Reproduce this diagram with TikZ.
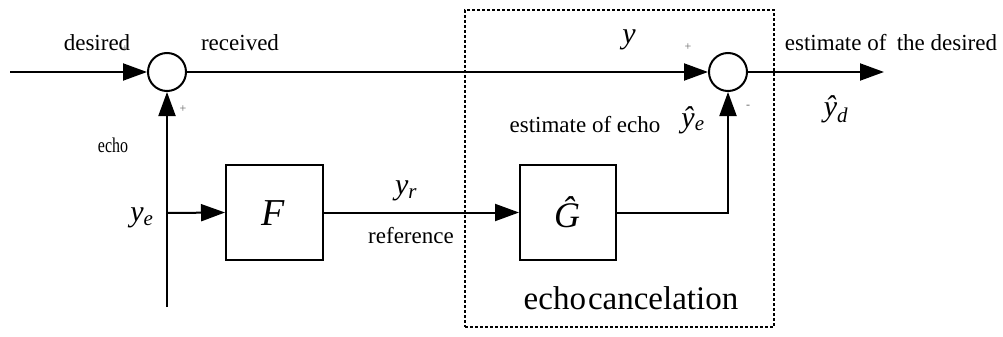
\documentclass[tikz,border=0pt]{standalone}
\usepackage{fontspec}
\setmainfont{Liberation Serif}
\usetikzlibrary{arrows.meta}
\newcommand\lbl[1]{\fontsize{#1}{#1}\selectfont}
\tikzset{
  wire/.style={line width=2pt},
  arr/.style={wire,-{Triangle[length=24pt,width=17pt]}},
  sumnode/.style={circle,draw,line width=2pt,minimum size=38pt,inner sep=0pt},
  blockbox/.style={draw,line width=2pt,minimum height=95pt,inner sep=0pt},
  dashbox/.style={draw,line width=1.4pt,dash pattern=on 3pt off 2pt,inner sep=0pt},
  txt/.style={inner sep=0pt,font=\lbl{23}},
  mth/.style={inner sep=0pt,font=\lbl{30}\itshape},
  sgn/.style={inner sep=0pt,font=\lbl{12},text=black!60}
}
\begin{document}
\begin{tikzpicture}[x=1pt,y=-1pt]
\useasboundingbox (0,0) rectangle (1003,337);
% dashed echo-cancelation region
\node[dashbox,minimum width=309pt,minimum height=317pt] (cancel) at (619.5,168.5) {};
% summing junctions and blocks
\node[sumnode] (s1) at (167,72) {};
\node[sumnode] (s2) at (728,72) {};
\node[blockbox,minimum width=97pt] (F) at (274.5,212.5) {};
\node[blockbox,minimum width=96pt] (G) at (568,212.5) {};
\node[inner sep=0pt,font=\lbl{38}\itshape] (Flab) at (273,213) {F};
\node[inner sep=0pt,font=\lbl{36}\itshape] (Glab) at (567,212) {Ĝ};
% free ends
\coordinate (in0) at (10,72);
\coordinate (out) at (884,72);
\coordinate (ebot) at (167,307);
\coordinate (ejoin) at (167,213);
% connectors
\draw[arr] (in0) -- (s1.west);
\draw[arr] (s1.east) -- (s2.west);
\draw[arr] (s2.east) -- (out);
\draw[arr] (ebot) -- (s1.south);
\draw[arr] (ejoin) -- (F.west);
\draw[arr] (F.east) -- (G.west);
\draw[arr] (G.east) -| (s2.south);
% labels
\node[txt] (tdes) at (97,43) {desired};
\node[sgn] (pdes) at (125,49) {+};
\node[txt] (trec) at (240,43) {received};
\node[sgn] (p1) at (183,109) {+};
\node[inner sep=0pt,font=\lbl{21},xscale=0.76] (techo) at (113,145) {echo};
\node[mth] (ty) at (629,40) {y};
\node[sgn] (p2) at (688,47) {+};
\node[sgn] (m2) at (748,107) {-};
\node[txt] (test) at (891,43) {estimate of\hspace{0.2em} the desired};
\node[mth] (tyd) at (836,109) {ŷ\textsubscript{d}};
\node[txt] (tece) at (585,125) {estimate of echo};
\node[mth] (tye) at (693,120) {ŷ\textsubscript{e}};
\node[mth] (tyel) at (142,218) {y\textsubscript{e}};
\node[mth] (tyr) at (406,191) {y\textsubscript{r}};
\node[txt] (tref) at (411,236) {reference};
\node[inner sep=0pt,font=\lbl{33}] (tcan) at (631,298) {echo\hspace{2pt}cancelation};
\end{tikzpicture}
\end{document}
